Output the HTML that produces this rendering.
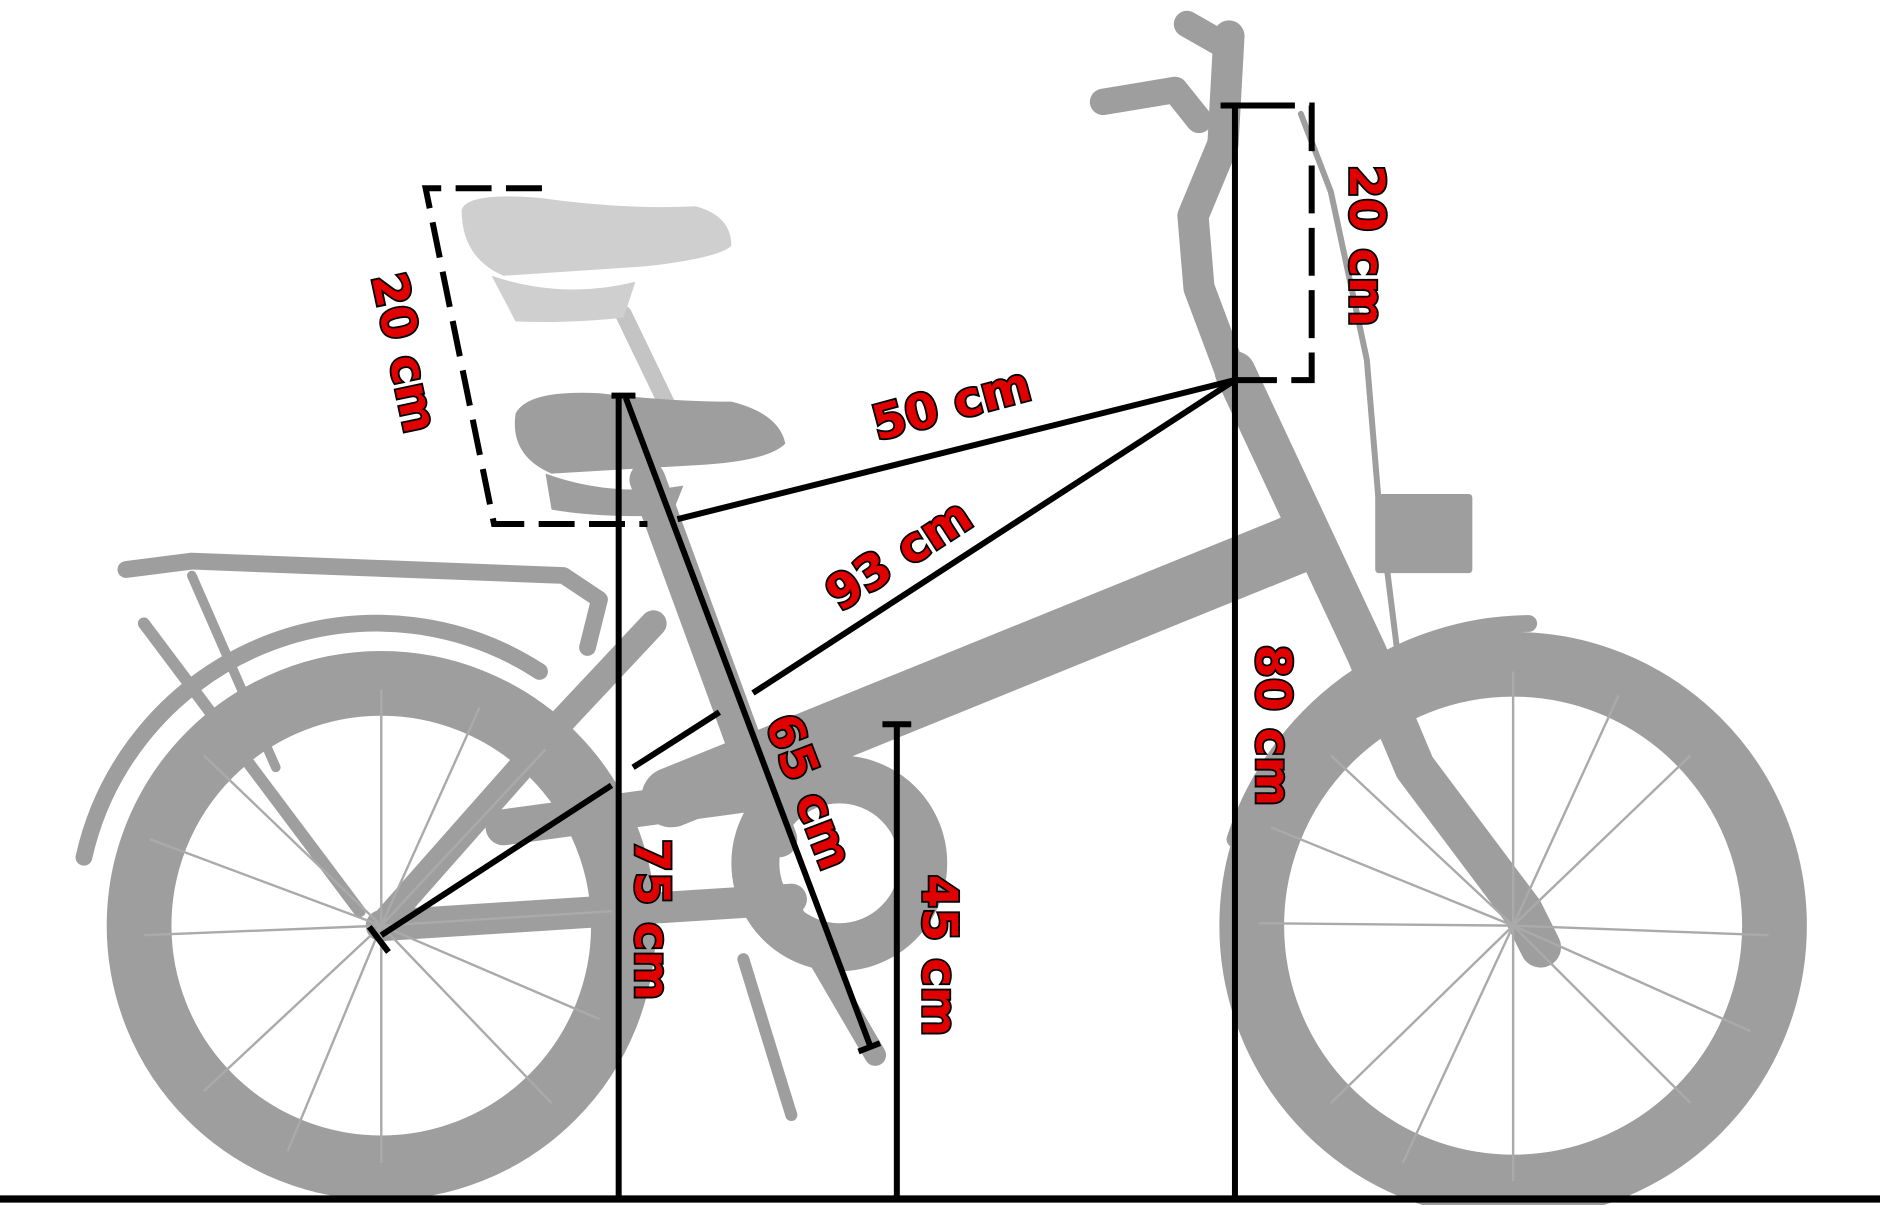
<!DOCTYPE html>
<html><head><meta charset="utf-8"><style>
html,body{margin:0;padding:0;background:#fff;overflow:hidden}
svg{display:block}
text{font-family:"DejaVu Sans","Liberation Sans",sans-serif;font-weight:bold;font-size:40px;fill:#e00000;stroke:#000;stroke-width:3px;paint-order:stroke}
</style></head><body>
<svg width="1880" height="1205" viewBox="0 0 1568 1005" xmlns="http://www.w3.org/2000/svg">
<rect width="1568" height="1005" fill="#fff"/>
<g fill="none" stroke="#9e9e9e" stroke-linecap="round" stroke-linejoin="round">
  <circle cx="318" cy="772" r="202" stroke-width="54"/>
  <circle cx="1262" cy="772" r="218" stroke-width="54"/>
  <path d="M70 715 A250 250 0 0 1 450 560" stroke-width="14"/>
  <path d="M1030 700 A260 260 0 0 1 1275 520" stroke-width="14"/>
  <path d="M1085 452 L560 665" stroke-width="50"/>
  <path d="M540 400 L650 700" stroke-width="30"/>
  <path d="M520 262 L560 345" stroke-width="14" stroke="#c4c4c4"/>
  <path d="M318 772 L470 600 L545 520" stroke-width="22"/>
  <path d="M318 772 L660 750" stroke-width="26"/>
  <path d="M1030 310 L1140 545 L1180 640 L1270 760 L1285 790" stroke-width="34"/>
  <path d="M1030 320 L1000 240 L995 180 L1020 120 L1025 30" stroke-width="26"/>
  <path d="M920 85 L980 75 L1000 100" stroke-width="22"/>
  <path d="M990 20 L1025 40" stroke-width="22"/>
  <path d="M1085 95 L1110 160 L1140 300 L1150 420 L1165 540" stroke-width="5"/>
  <path d="M105 475 L160 468 L470 480 L500 500 L490 540" stroke-width="14"/>
  <path d="M120 520 L300 760" stroke-width="10"/>
  <path d="M160 480 L230 640" stroke-width="8"/>
  <circle cx="700" cy="720" r="70" stroke-width="40"/>
  <path d="M660 760 L730 880" stroke-width="18"/>
  <path d="M620 800 L660 930" stroke-width="10"/>
  <path d="M420 690 L640 660" stroke-width="30"/>
  <rect x="1150" y="415" width="75" height="60" fill="#9e9e9e" stroke-width="6"/>
  <path d="M790 585 L830 575" stroke-width="10"/>
</g>
<g stroke="#aaa" stroke-width="2">
  <path d="M318 772 L318 575 M318 772 L455 625 M318 772 L510 760 M318 772 L460 920 M318 772 L318 970 M318 772 L170 910 M318 772 L120 780 M318 772 L170 630 M318 772 L400 590 M318 772 L500 850 M318 772 L240 960 M318 772 L125 700"/>
  <path d="M1262 772 L1262 560 M1262 772 L1410 630 M1262 772 L1475 780 M1262 772 L1410 920 M1262 772 L1262 985 M1262 772 L1110 920 M1262 772 L1050 770 M1262 772 L1110 630 M1262 772 L1350 580 M1262 772 L1460 860 M1262 772 L1170 970 M1262 772 L1060 690"/>
</g>
<path d="M385 175 Q390 160 450 165 Q520 175 580 172 Q610 180 610 205 Q600 215 540 222 L420 230 Q385 215 385 175Z" fill="#cfcfcf"/>
<path d="M410 230 Q470 250 530 235 L520 265 Q470 270 430 268Z" fill="#cfcfcf"/>
<path d="M430 345 Q440 325 500 328 Q560 335 610 335 Q650 345 655 370 Q640 385 580 388 L460 395 Q425 380 430 345Z" fill="#9e9e9e"/>
<path d="M455 395 Q510 415 570 405 L560 430 Q500 432 460 425Z" fill="#9e9e9e"/>
<g stroke="#000" stroke-width="5" fill="none">
  <line x1="0" y1="1000" x2="1568" y2="1000" stroke-width="6"/>
  <line x1="516" y1="330" x2="516" y2="1000"/>
  <line x1="510" y1="330" x2="530" y2="330"/>
  <line x1="748" y1="604" x2="748" y2="1000"/>
  <line x1="736" y1="604" x2="760" y2="604"/>
  <line x1="1030" y1="88" x2="1030" y2="1000"/>
  <line x1="1018" y1="88" x2="1042" y2="88"/>
  <line x1="522" y1="332" x2="726" y2="873"/>
  <line x1="716" y1="877" x2="734" y2="870"/>
  <line x1="565" y1="433" x2="1030" y2="317"/>
  <path d="M318 780 L510 655 M528 640 L600 594 M628 578 L1030 317"/>
  <line x1="308" y1="773" x2="324" y2="794"/>
  <path d="M1040 88 L1094 88 L1094 317 L1030 317" stroke-dasharray="40 12"/>
  <path d="M452 157 L355 157 L412 437 L540 437" stroke-dasharray="30 12"/>
</g>
<text transform="translate(797,350) rotate(-15)" text-anchor="middle">50 cm</text>
<text transform="translate(757,474) rotate(-33)" text-anchor="middle">93 cm</text>
<text transform="translate(662,665) rotate(69)" text-anchor="middle">65 cm</text>
<text transform="translate(530,767) rotate(90)" text-anchor="middle">75 cm</text>
<text transform="translate(770,797) rotate(90)" text-anchor="middle">45 cm</text>
<text transform="translate(1048,605) rotate(90)" text-anchor="middle">80 cm</text>
<text transform="translate(1126,205) rotate(90)" text-anchor="middle">20 cm</text>
<text transform="translate(324,297) rotate(78)" text-anchor="middle">20 cm</text>
</svg>
</body></html>
